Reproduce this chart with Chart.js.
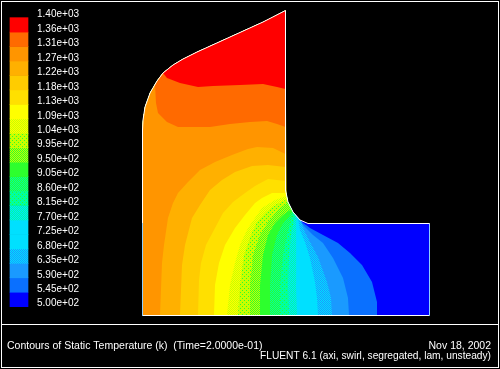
<!DOCTYPE html>
<html>
<head>
<meta charset="utf-8">
<title>Contours of Static Temperature</title>
<script src="https://cdn.jsdelivr.net/npm/chart.js@4"></script>
<style>
  html, body { margin: 0; padding: 0; background: #000; }
  canvas { display: block; }
</style>
</head>
<body>
<canvas id="contour" width="500" height="369"></canvas>
<script>
'use strict';
// colour bar: band edges in kelvin and the labels printed next to them
const barLevels = [500, 545, 590, 635, 680, 725, 770, 815, 860, 905, 950, 995, 1040, 1085, 1130, 1175, 1220, 1265, 1310, 1355, 1400];
const barLabels = ['5.00e+02', '5.45e+02', '5.90e+02', '6.35e+02', '6.80e+02', '7.25e+02', '7.70e+02',
  '8.15e+02', '8.60e+02', '9.05e+02', '9.50e+02', '9.95e+02', '1.04e+03', '1.09e+03', '1.13e+03',
  '1.18e+03', '1.22e+03', '1.27e+03', '1.31e+03', '1.36e+03', '1.40e+03'];

// domain outline, counter clockwise from the lower left corner of the part
const outline = [[0.5, -0.5], [287.5, -0.5], [287.5, 91.5], [166, 91.5], [158, 95], [151, 103], [146, 113], [143.5, 125],
  [143.5, 304.5], [121, 293], [88, 278], [55, 263], [41, 256], [31, 250], [21, 242], [15, 234], [8, 222], [3, 208], [1, 195], [0.5, 185]];

// isotherms
const iso545 = [[235, 0], [235, 13], [230, 33], [220, 50], [208, 62], [196, 72], [181, 80], [168, 87], [160, 93]];
const iso590 = [[207, 0], [206, 17], [201, 37], [191, 57], [181, 72], [171, 80], [161, 90], [158, 95]];
const iso635 = [[190, 0], [189, 17], [185, 33], [176, 58], [168, 73], [162, 85], [159, 94]];
const iso680 = [[176, 0], [175, 17], [173, 33], [168, 57], [163, 73], [158, 85], [156, 97]];
const iso770 = [[155, 0], [154, 30], [154, 60], [154, 80], [154.5, 99]];
const iso815 = [[147, 0], [146, 30], [147, 60], [149, 80], [153, 100]];
const iso860 = [[138, 0], [138, 30], [141, 60], [145, 80], [151, 103]];
const iso905 = [[128, 0], [128, 30], [130, 60], [135, 80], [140, 90], [146, 97], [150.5, 104]];
const iso950 = [[118, 0], [118, 30], [121, 60], [126, 80], [133, 92], [141, 100], [149.5, 106]];
const iso995 = [[108, 0], [108, 30], [111, 60], [118, 80], [126, 93], [136, 105], [146, 113]];
const iso1040 = [[96, 0], [98, 30], [102, 60], [109, 80], [115, 93], [124, 103], [135, 111], [145.4, 116]];
const iso1085 = [[85, 0], [88, 30], [93, 52], [98, 70], [106, 87], [113, 97], [120, 107], [133, 115], [144.5, 119]];
const iso1130 = [[72, 0], [73, 30], [77, 52], [83, 70], [93, 87], [103, 100], [113, 112], [120, 117], [130, 122], [143.5, 122]];
const iso1175 = [[56, 0], [57, 35], [59, 52], [64, 70], [73, 87], [81, 102], [91, 113], [103, 122], [113, 129], [126, 136], [143.5, 134]];
const iso1220 = [[38, 0], [40, 50], [43, 70], [50, 97], [58, 110], [68, 125], [80, 135], [93, 143], [110, 149], [126, 150], [143.5, 148]];
const iso1265 = [[18, 0], [20, 52], [22, 70], [26, 97], [31, 112], [36, 122], [46, 133], [58, 145], [73, 153], [90, 160], [106, 166], [115, 168], [131, 167], [143.5, 161]];
const iso1310 = [[13, 230], [14, 212], [16, 202], [25, 193], [36, 188], [68, 188], [88, 191], [108, 193], [125, 194], [135, 191], [143.5, 188]];
const iso1355 = [[21, 242], [25, 237], [38, 232], [56, 228], [71, 229], [98, 230], [121, 231], [135, 228], [143.5, 226]];

// level, its curve, which part of the outline closes the hot side
const isoTable = [
  [545, iso545, 4, 20], [590, iso590, 5, 20], [635, iso635, 5, 20], [680, iso680, 5, 20],
  [770, iso770, 5, 20], [815, iso815, 5, 20], [860, iso860, 6, 20], [905, iso905, 6, 20],
  [950, iso950, 6, 20], [995, iso995, 7, 20], [1040, iso1040, 7, 20], [1085, iso1085, 8, 20],
  [1130, iso1130, 8, 20], [1175, iso1175, 8, 20], [1220, iso1220, 8, 20], [1265, iso1265, 8, 20],
  [1310, iso1310, 8, 16], [1355, iso1355, 8, 14]
];

// 8 bit display dithers the middle bands, so these are small patterns
function dither(colA, colB, cells) {
  const size = cells.length;
  const c = document.createElement('canvas');
  c.width = c.height = size;
  const g = c.getContext('2d');
  for (let j = 0; j < size; j++) {
    for (let i = 0; i < size; i++) {
      g.fillStyle = cells[j][i] === '1' ? colB : colA;
      g.fillRect(i, j, 1, 1);
    }
  }
  return g.createPattern(c, 'repeat');
}
const checker = ['10', '01'];
const specks = ['1000', '0000', '0010', '0000'];

const lime = '#c8ff00', green = '#2dff2d', teal = '#00ffa0', cyan = '#00e0ff', sky = '#1a9aff';
// one colour per band, coldest first
const bandColors = [
  '#0000ff', '#0a70ff', sky, dither(cyan, sky, checker), cyan, cyan,
  dither(teal, cyan, checker), dither(teal, green, specks), dither(green, teal, checker), green,
  dither(lime, green, checker), dither(lime, green, specks), dither('#ffff00', lime, checker), '#ffff00',
  '#ffe000', '#ffcc00', '#ffb000', '#ff9500', '#ff6a00', '#ff0000'
];

function toPoints(list) {
  return list.map(function (p) { return { x: p[0], y: p[1] }; });
}

function bandColorAbove(level) {
  return bandColors[barLevels.indexOf(level)];
}

const datasets = [];

// part outline goes on top, the lower walls show through as dots
datasets.push({
  data: toPoints([[0.5, -0.5], [0.5, 92]]),
  showLine: true, pointRadius: 0, borderColor: '#1a9aff', borderWidth: 1, borderDash: [1, 1], fill: false
});
datasets.push({
  data: toPoints([[287.5, -0.5], [287.5, 91.5]]),
  showLine: true, pointRadius: 0, borderColor: '#1a9aff', borderWidth: 1, borderDash: [1, 1], fill: false
});
datasets.push({
  data: toPoints(outline.concat([outline[0]])),
  showLine: true, pointRadius: 0, borderColor: '#ffffff', borderWidth: 1, fill: false
});

// hottest first because chart.js paints the first dataset last
for (let i = isoTable.length - 1; i >= 0; i--) {
  const row = isoTable[i];
  let poly = row[1].concat(outline.slice(row[2], row[3]));
  if (row[3] === 20) poly = poly.concat([outline[0]]);
  datasets.push({
    label: String(row[0]),
    data: toPoints(poly),
    showLine: true, pointRadius: 0, borderWidth: 0,
    backgroundColor: bandColorAbove(row[0]),
    fill: 'shape'
  });
}
datasets.push({
  label: '500',
  data: toPoints(outline),
  showLine: true, pointRadius: 0, borderWidth: 0,
  backgroundColor: bandColors[0],
  fill: 'shape'
});

// colour bar
const barData = [];
for (let i = 0; i < bandColors.length; i++) {
  barData.push({ x: -123, y: [barLevels[i], barLevels[i + 1]] });
}
datasets.push({
  type: 'bar',
  data: barData,
  yAxisID: 'yT',
  backgroundColor: bandColors,
  borderWidth: 0,
  barThickness: 18
});

const framePlugin = {
  id: 'frame',
  afterDraw: function (chart) {
    const ctx = chart.ctx;
    ctx.save();
    ctx.strokeStyle = '#ffffff';
    ctx.lineWidth = 1;
    ctx.strokeRect(1.5, 1.5, 497, 366);
    ctx.beginPath();
    ctx.moveTo(1, 324.5);
    ctx.lineTo(499, 324.5);
    ctx.stroke();
    ctx.fillStyle = '#ffffff';
    ctx.font = '10.5px "Liberation Sans"';
    ctx.textBaseline = 'alphabetic';
    ctx.textAlign = 'left';
    ctx.fillText('Contours of Static Temperature (k)  (Time=2.0000e-01)', 7, 349);
    ctx.textAlign = 'right';
    ctx.fillText('Nov 18, 2002', 491, 349);
    ctx.font = '10.2px "Liberation Sans"';
    ctx.fillText('FLUENT 6.1 (axi, swirl, segregated, lam, unsteady)', 491, 359);
    ctx.restore();
  }
};

new Chart(document.getElementById('contour').getContext('2d'), {
  type: 'scatter',
  data: { datasets: datasets },
  plugins: [framePlugin],
  options: {
    responsive: false,
    animation: false,
    layout: { padding: 0 },
    plugins: { legend: { display: false }, tooltip: { enabled: false } },
    scales: {
      x: { type: 'linear', min: -142, max: 358, offset: false, display: false },
      y: { type: 'linear', min: -54, max: 315, display: false },
      yT: {
        type: 'linear',
        min: 306,
        max: 1455,
        position: { x: -63 },
        afterFit: function (scale) {
          // the labels sit inside the plot, they should not push the area in
          scale.width = 0;
          scale.paddingTop = 0;
          scale.paddingBottom = 0;
        },
        afterBuildTicks: function (scale) {
          scale.ticks = barLevels.map(function (v) { return { value: v }; });
        },
        grid: { display: false, drawTicks: false },
        border: { display: false },
        ticks: {
          autoSkip: false,
          padding: 0,
          labelOffset: -3,
          color: '#ffffff',
          font: { family: '"Liberation Sans"', size: 10 },
          callback: function (value, index) { return barLabels[index]; }
        }
      }
    }
  }
});
</script>
</body>
</html>
